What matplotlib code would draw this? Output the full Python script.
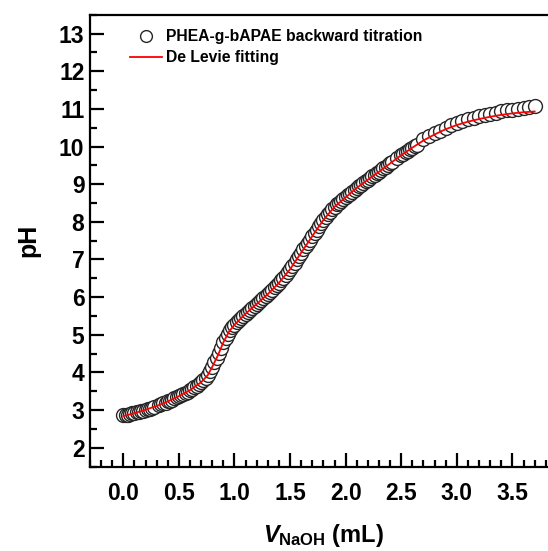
import matplotlib
matplotlib.use("Agg")
import matplotlib.pyplot as plt
from matplotlib.ticker import MultipleLocator

plt.rcParams['font.family'] = ['Liberation Sans', 'DejaVu Sans']
plt.rcParams['font.weight'] = 'bold'
plt.rcParams['mathtext.fontset'] = 'custom'
plt.rcParams['mathtext.it'] = 'Liberation Sans:italic:bold'
plt.rcParams['mathtext.rm'] = 'Liberation Sans:bold'
plt.rcParams['mathtext.bf'] = 'Liberation Sans:bold'

# titration data
v_data = [0.00, 0.02, 0.04, 0.06, 0.08, 0.10, 0.12, 0.14, 0.16, 0.18,
          0.20, 0.22, 0.24, 0.26, 0.28,
          0.32, 0.34, 0.36, 0.38, 0.40, 0.42, 0.44, 0.46, 0.48, 0.50,
          0.52, 0.54, 0.56, 0.58, 0.60, 0.62, 0.64, 0.66, 0.68, 0.70,
          0.72, 0.74, 0.76, 0.78, 0.80, 0.82, 0.84, 0.86, 0.88, 0.90,
          0.92, 0.94, 0.96, 0.98, 1.00, 1.02, 1.04, 1.06, 1.08, 1.10,
          1.12, 1.14, 1.16, 1.18, 1.20, 1.22, 1.24, 1.26, 1.28, 1.30,
          1.32, 1.34, 1.36, 1.38, 1.40, 1.42, 1.44, 1.46, 1.48, 1.50,
          1.52, 1.54, 1.56, 1.58, 1.60, 1.62, 1.64, 1.66, 1.68, 1.70,
          1.72, 1.74, 1.76, 1.78, 1.80, 1.82, 1.84, 1.86, 1.88, 1.90,
          1.92, 1.94, 1.96, 1.98, 2.00, 2.02, 2.04, 2.06, 2.08, 2.10,
          2.12, 2.14, 2.16, 2.18, 2.20, 2.22, 2.24, 2.26, 2.28, 2.30,
          2.32, 2.34, 2.36, 2.38, 2.40, 2.42,
          2.46, 2.50, 2.52, 2.54, 2.56, 2.58, 2.60, 2.62, 2.64,
          2.70, 2.75, 2.80, 2.85, 2.90, 2.95, 3.00, 3.05, 3.10, 3.15,
          3.20, 3.25, 3.30, 3.35, 3.40, 3.45, 3.50, 3.55, 3.60, 3.65, 3.70]
ph_data = [2.86, 2.87, 2.88, 2.89, 2.91, 2.92, 2.94, 2.95, 2.97, 2.98,
           3.00, 3.02, 3.04, 3.06, 3.08,
           3.13, 3.16, 3.18, 3.20, 3.23, 3.25, 3.28, 3.31, 3.34, 3.37,
           3.40, 3.43, 3.46, 3.49, 3.53, 3.57, 3.61, 3.65, 3.69, 3.74,
           3.80, 3.86, 3.94, 4.03, 4.15, 4.27, 4.39, 4.52, 4.66, 4.80,
           4.92, 5.03, 5.12, 5.20, 5.27, 5.33, 5.39, 5.45, 5.51, 5.56,
           5.61, 5.67, 5.72, 5.77, 5.82, 5.87, 5.92, 5.98, 6.03, 6.08,
           6.14, 6.20, 6.26, 6.32, 6.38, 6.45, 6.52, 6.59, 6.66, 6.74,
           6.82, 6.91, 7.00, 7.09, 7.18, 7.27, 7.35, 7.44, 7.53, 7.62,
           7.71, 7.79, 7.88, 7.97, 8.05, 8.13, 8.20, 8.27, 8.34, 8.40,
           8.46, 8.51, 8.56, 8.60, 8.65, 8.70, 8.75, 8.80, 8.85, 8.90,
           8.95, 8.99, 9.03, 9.08, 9.12, 9.16, 9.21, 9.25, 9.29, 9.33,
           9.38, 9.42, 9.46, 9.51, 9.55, 9.59,
           9.70, 9.77, 9.81, 9.85, 9.89, 9.93, 9.97, 10.01, 10.05,
           10.19, 10.27, 10.35, 10.42, 10.50, 10.56, 10.62, 10.67, 10.72, 10.76,
           10.80, 10.84, 10.87, 10.90, 10.93, 10.96, 10.98, 11.00, 11.02, 11.04, 11.07]

# De Levie fit curve
v_fit = [0.00, 0.10, 0.20, 0.30, 0.40, 0.50, 0.60, 0.70, 0.76, 0.80,
         0.85, 0.90, 0.95, 1.00, 1.10, 1.20, 1.30, 1.40, 1.50, 1.60,
         1.70, 1.80, 1.90, 2.00, 2.10, 2.20, 2.30, 2.40, 2.50, 2.60,
         2.70, 2.80, 2.90, 3.00, 3.10, 3.20, 3.30, 3.40, 3.50, 3.60, 3.70]
ph_fit = [2.84, 2.92, 3.01, 3.11, 3.23, 3.37, 3.53, 3.74, 3.93, 4.15,
          4.45, 4.80, 5.08, 5.27, 5.56, 5.82, 6.08, 6.38, 6.74, 7.18,
          7.62, 8.05, 8.40, 8.65, 8.90, 9.12, 9.33, 9.55, 9.77, 9.97,
          10.16, 10.32, 10.46, 10.57, 10.66, 10.73, 10.79, 10.84, 10.88, 10.91, 10.93]

fig = plt.figure(figsize=(5.48, 5.51), dpi=100)
ax = fig.add_axes([0.1642, 0.1532, 0.852, 0.8201])

ax.plot(v_data, ph_data, 'o', ms=10, mfc='white', mec='#262626', mew=1.0,
        label='PHEA-g-bAPAE backward titration')
ax.plot(v_fit, ph_fit, '-', color='red', lw=1.3, label='De Levie fitting')

ax.set_xlim(-0.3, 3.9)
ax.set_ylim(1.5, 13.5)
ax.xaxis.set_minor_locator(MultipleLocator(0.1))
ax.yaxis.set_major_locator(MultipleLocator(1))
ax.yaxis.set_minor_locator(MultipleLocator(0.5))
ax.set_xticks([0.0, 0.5, 1.0, 1.5, 2.0, 2.5, 3.0, 3.5])
ax.set_xticklabels(['0.0', '0.5', '1.0', '1.5', '2.0', '2.5', '3.0', '3.5'])

for s in ax.spines.values():
    s.set_linewidth(1.6)
ax.tick_params(which='both', direction='in', width=1.6, top=False, right=False)
ax.tick_params(which='major', length=10)
ax.tick_params(which='minor', length=5)
ax.tick_params(axis='x', which='major', labelsize=16.5, pad=11)
ax.tick_params(axis='y', which='major', labelsize=16.5, pad=4)

ax.set_ylabel('pH', fontsize=18, fontweight='bold', labelpad=13)
ax.set_xlabel(r'$V_{\mathrm{NaOH}}$' + ' (mL)', fontsize=17, fontweight='bold', labelpad=12)

leg = ax.legend(loc='upper left', bbox_to_anchor=(0.086, 0.968), frameon=False,
                fontsize=11.3, borderpad=0, borderaxespad=0, labelspacing=0.4,
                handlelength=2.0, handletextpad=0.3, markerscale=0.85)

fig.savefig('out.png', dpi=100)
